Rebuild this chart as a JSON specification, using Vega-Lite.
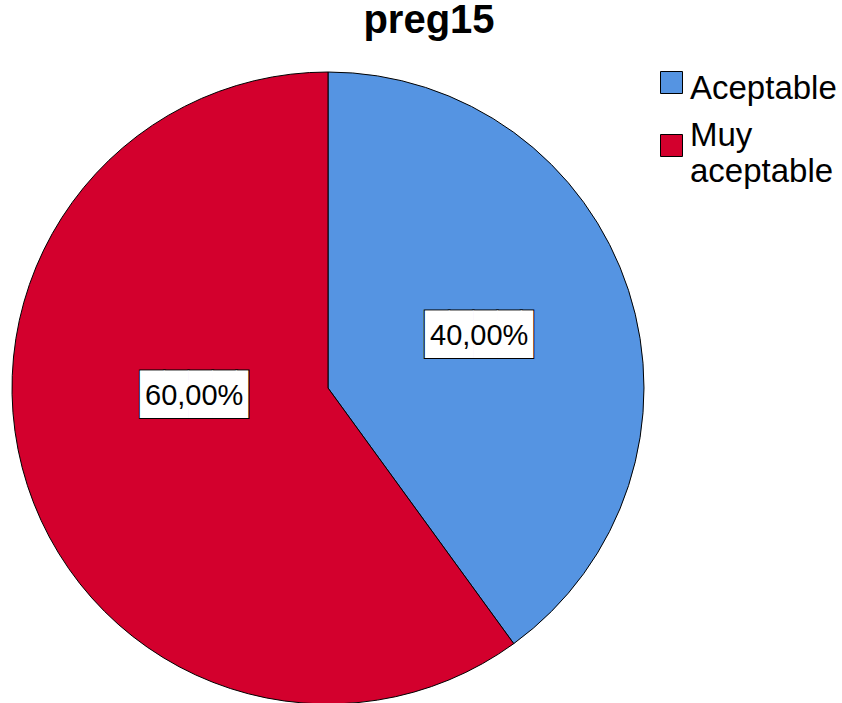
{
  "$schema": "https://vega.github.io/schema/vega-lite/v6.json",
  "width": 632,
  "height": 632,
  "autosize": {"type": "none"},
  "padding": {"left": 12, "top": 72, "right": 198, "bottom": 0},
  "background": "white",
  "title": {
    "text": "preg15",
    "font": "Liberation Sans",
    "fontSize": 40,
    "fontWeight": "bold",
    "color": "black",
    "anchor": "middle",
    "dx": 101,
    "dy": 41,
    "offset": 34,
    "baseline": "alphabetic"
  },
  "data": {
    "values": [
      {"categoria": "Aceptable", "porcentaje": 40, "etiqueta": "40,00%"},
      {"categoria": "Muy aceptable", "porcentaje": 60, "etiqueta": "60,00%"}
    ]
  },
  "layer": [
    {
      "mark": {"type": "arc", "stroke": "black", "strokeWidth": 1},
      "encoding": {
        "theta": {"field": "porcentaje", "type": "quantitative", "stack": true},
        "color": {
          "field": "categoria",
          "type": "nominal",
          "scale": {"domain": ["Aceptable", "Muy aceptable"], "range": ["#5594e2", "#d3002d"]},
          "legend": {
            "orient": "none",
            "legendX": 643,
            "legendY": -6,
            "title": null,
            "symbolType": "square",
            "symbolSize": 484,
            "symbolStrokeColor": "black",
            "symbolStrokeWidth": 1,
            "labelFont": "Liberation Sans",
            "labelFontSize": 33,
            "labelColor": "black",
            "labelLimit": 0,
            "labelOffset": 2,
            "rowPadding": 13,
            "labelExpr": "datum.label == 'Muy aceptable' ? ['Muy', 'aceptable'] : datum.label",
            "encode": {
              "labels": {"update": {"lineHeight": {"value": 36}, "dy": {"signal": "datum.value == 'Muy aceptable' ? -10 : 6"}}}
            }
          }
        }
      }
    },
    {
      "mark": {"type": "text", "radius": 160, "thetaOffset": -0.019, "dx": 6, "text": "████▌", "font": "DejaVu Sans Mono", "fontSize": 40, "fill": "black", "stroke": "black", "strokeWidth": 2, "align": "center", "baseline": "middle"},
      "encoding": {
        "theta": {"field": "porcentaje", "type": "quantitative", "stack": true},
        "detail": {"field": "categoria", "type": "nominal"},
        "opacity": {"condition": {"test": "datum.categoria == 'Aceptable'", "value": 1}, "value": 0}
      }
    },
    {
      "mark": {"type": "text", "radius": 160, "thetaOffset": -0.019, "dx": 6, "text": "████▌", "font": "DejaVu Sans Mono", "fontSize": 40, "fill": "white", "align": "center", "baseline": "middle"},
      "encoding": {
        "theta": {"field": "porcentaje", "type": "quantitative", "stack": true},
        "detail": {"field": "categoria", "type": "nominal"},
        "opacity": {"condition": {"test": "datum.categoria == 'Aceptable'", "value": 1}, "value": 0}
      }
    },
    {
      "mark": {"type": "text", "radius": 160, "thetaOffset": -0.019, "font": "Liberation Sans", "fontSize": 29, "fill": "black", "align": "center", "baseline": "middle"},
      "encoding": {
        "theta": {"field": "porcentaje", "type": "quantitative", "stack": true},
        "detail": {"field": "categoria", "type": "nominal"},
        "text": {"field": "etiqueta", "type": "nominal"},
        "opacity": {"condition": {"test": "datum.categoria == 'Aceptable'", "value": 1}, "value": 0}
      }
    },
    {
      "mark": {"type": "text", "radius": 134, "thetaOffset": 0.258, "dx": 6, "text": "████▌", "font": "DejaVu Sans Mono", "fontSize": 40, "fill": "black", "stroke": "black", "strokeWidth": 2, "align": "center", "baseline": "middle"},
      "encoding": {
        "theta": {"field": "porcentaje", "type": "quantitative", "stack": true},
        "detail": {"field": "categoria", "type": "nominal"},
        "opacity": {"condition": {"test": "datum.categoria == 'Muy aceptable'", "value": 1}, "value": 0}
      }
    },
    {
      "mark": {"type": "text", "radius": 134, "thetaOffset": 0.258, "dx": 6, "text": "████▌", "font": "DejaVu Sans Mono", "fontSize": 40, "fill": "white", "align": "center", "baseline": "middle"},
      "encoding": {
        "theta": {"field": "porcentaje", "type": "quantitative", "stack": true},
        "detail": {"field": "categoria", "type": "nominal"},
        "opacity": {"condition": {"test": "datum.categoria == 'Muy aceptable'", "value": 1}, "value": 0}
      }
    },
    {
      "mark": {"type": "text", "radius": 134, "thetaOffset": 0.258, "font": "Liberation Sans", "fontSize": 29, "fill": "black", "align": "center", "baseline": "middle"},
      "encoding": {
        "theta": {"field": "porcentaje", "type": "quantitative", "stack": true},
        "detail": {"field": "categoria", "type": "nominal"},
        "text": {"field": "etiqueta", "type": "nominal"},
        "opacity": {"condition": {"test": "datum.categoria == 'Muy aceptable'", "value": 1}, "value": 0}
      }
    }
  ]
}
